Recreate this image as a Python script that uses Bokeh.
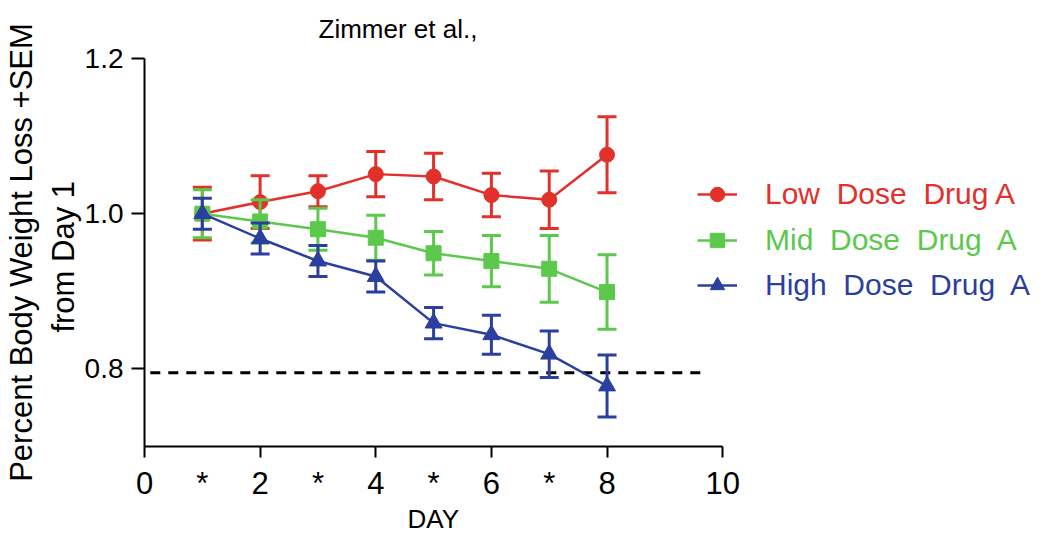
from bokeh.plotting import figure
from bokeh.models import (Range1d, FixedTicker, Legend, LegendItem, PrintfTickFormatter, Title)
from bokeh.embed import file_html
from bokeh.resources import INLINE

# ---- data ----
days = [1, 2, 3, 4, 5, 6, 7, 8]
low_mean = [1.000, 1.015, 1.029, 1.051, 1.048, 1.024, 1.018, 1.076]
low_sem = [0.034, 0.034, 0.020, 0.029, 0.030, 0.028, 0.037, 0.049]
mid_mean = [1.000, 0.990, 0.980, 0.969, 0.949, 0.939, 0.929, 0.899]
mid_sem = [0.031, 0.028, 0.027, 0.029, 0.028, 0.033, 0.043, 0.048]
high_mean = [1.000, 0.968, 0.939, 0.919, 0.859, 0.844, 0.819, 0.778]
high_sem = [0.020, 0.020, 0.020, 0.020, 0.020, 0.025, 0.030, 0.040]

series_names = ["Low  Dose  Drug A", "Mid  Dose  Drug  A", "High  Dose  Drug  A"]
series_colors = ["#e2302a", "#5cc84c", "#2b3f9e"]
series_markers = ["circle", "square", "triangle"]

x_major = [0, 2, 4, 6, 8, 10]
asterisk_days = [1, 3, 5, 7]
y_ticks = [0.8, 1.0, 1.2]
threshold = 0.795
threshold_x = [0.1, 9.65]

FONT = "Liberation Sans"

p = figure(width=1050, height=536, output_backend="svg", toolbar_location=None,
           x_range=Range1d(0, 15.67), y_range=Range1d(0.7, 1.2),
           min_border_left=144, min_border_right=0, min_border_top=58,
           min_border_bottom=90)
p.outline_line_color = None
p.xgrid.visible = False
p.ygrid.visible = False
p.background_fill_color = "white"

# title
p.title.text = "Zimmer et al.,"
p.title.align = "left"
p.title.offset = 174
p.title.vertical_align = "top"
p.title.standoff = 26
p.title.text_font = FONT
p.title.text_font_size = "26px"
p.title.text_font_style = "normal"
p.title.text_color = "black"

# x axis
xa = p.xaxis[0]
xa.bounds = (0, 10)
xa.ticker = FixedTicker(ticks=sorted(x_major[:-1] + asterisk_days) + [x_major[-1]],
                        minor_ticks=x_major)
xa.major_label_overrides = {d: "*" for d in asterisk_days}
xa.major_tick_line_color = None
xa.major_tick_out = 11
xa.major_tick_in = 0
xa.minor_tick_out = 11
xa.minor_tick_in = 0
xa.minor_tick_line_width = 2
xa.minor_tick_line_color = "black"
xa.axis_line_width = 2
xa.axis_line_color = "black"
xa.major_label_text_font = FONT
xa.major_label_text_font_size = "31px"
xa.major_label_text_color = "black"
xa.major_label_standoff = 8

# x axis title, centred under the bounded axis (0..10)
p.add_layout(Title(text="DAY", align="left", offset=263, vertical_align="top",
                   standoff=1, text_font=FONT, text_font_size="26px",
                   text_font_style="normal", text_color="black"), "below")

# y axis
ya = p.yaxis[0]
ya.bounds = (0.7, 1.2)
ya.ticker = FixedTicker(ticks=y_ticks, minor_ticks=[])
ya.formatter = PrintfTickFormatter(format="%.1f")
ya.major_tick_out = 13
ya.major_tick_in = 0
ya.major_tick_line_width = 2
ya.major_tick_line_color = "black"
ya.axis_line_width = 2
ya.axis_line_color = "black"
ya.major_label_text_font = FONT
ya.major_label_text_font_size = "28px"
ya.major_label_text_color = "black"
ya.major_label_standoff = 8
ya.axis_label = "Percent Body Weight Loss +SEM\nfrom  Day 1"
ya.axis_label_text_font = FONT
ya.axis_label_text_font_size = "31px"
ya.axis_label_text_font_style = "normal"
ya.axis_label_text_color = "black"
ya.axis_label_standoff = 1

# threshold
p.line(threshold_x, [threshold, threshold], line_color="black", line_width=3,
       line_dash="10 8")

legend_specs = []
for means, sems, color, marker, name in zip([low_mean, mid_mean, high_mean],
                                            [low_sem, mid_sem, high_sem],
                                            series_colors, series_markers, series_names):
    upper = [m + s for m, s in zip(means, sems)]
    lower = [m - s for m, s in zip(means, sems)]
    ln = p.line(days, means, line_color=color, line_width=2.5)
    p.segment(x0=days, y0=lower, x1=days, y1=upper, line_color=color, line_width=3)
    p.scatter(days, upper, marker="dash", size=19, line_color=color, line_width=3)
    p.scatter(days, lower, marker="dash", size=19, line_color=color, line_width=3)
    msize = 17 if marker == "triangle" else 15
    mk = p.scatter(days, means, marker=marker, size=msize, fill_color=color,
                   line_color=color)
    legend_specs.append((name, color, ln, mk))

row_bottoms = [234, 188, 143]
for (name, color, ln, mk), yb in zip(legend_specs, row_bottoms):
    lg = Legend(items=[LegendItem(label=name, renderers=[ln, mk])],
                location=(553, yb), padding=0, margin=0, spacing=0,
                glyph_width=40, glyph_height=36, label_height=36,
                label_standoff=28, border_line_color=None,
                background_fill_alpha=0, label_text_color=color,
                label_text_font=FONT, label_text_font_size="30px")
    p.add_layout(lg, "center")

open("out.html", "w").write(file_html(p, INLINE))
